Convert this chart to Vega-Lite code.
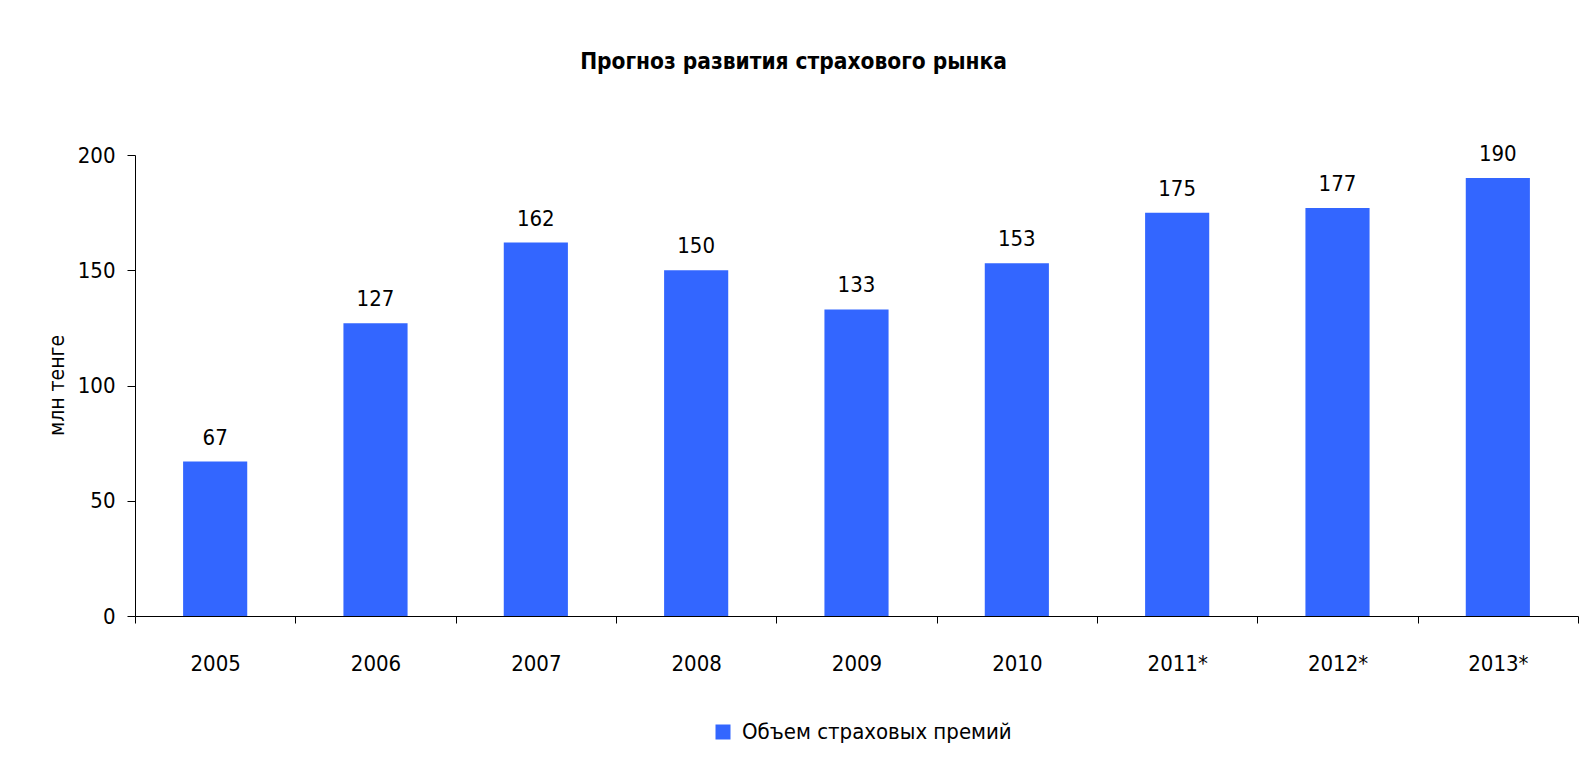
{
  "$schema": "https://vega.github.io/schema/vega-lite/v6.json",
  "autosize": {"type": "none"},
  "padding": {"left": 135, "top": 155, "right": 5, "bottom": 142},
  "width": 1443,
  "height": 461,
  "background": "white",
  "config": {
    "view": {"stroke": null},
    "font": "DejaVu Sans Condensed, Liberation Sans",
    "axis": {"grid": false, "domainColor": "black", "tickColor": "black", "labelColor": "black", "titleColor": "black", "labelFont": "DejaVu Sans Condensed, Liberation Sans", "titleFont": "DejaVu Sans Condensed, Liberation Sans"}
  },
  "title": {
    "text": "Прогноз развития страхового рынка",
    "font": "DejaVu Sans Condensed, Liberation Sans",
    "fontSize": 22.5,
    "fontWeight": "bold",
    "color": "black",
    "anchor": "middle",
    "dx": -63,
    "offset": 70
  },
  "data": {
    "values": [
      {"year": "2005", "value": 67, "series": "Объем страховых премий"},
      {"year": "2006", "value": 127, "series": "Объем страховых премий"},
      {"year": "2007", "value": 162, "series": "Объем страховых премий"},
      {"year": "2008", "value": 150, "series": "Объем страховых премий"},
      {"year": "2009", "value": 133, "series": "Объем страховых премий"},
      {"year": "2010", "value": 153, "series": "Объем страховых премий"},
      {"year": "2011*", "value": 175, "series": "Объем страховых премий"},
      {"year": "2012*", "value": 177, "series": "Объем страховых премий"},
      {"year": "2013*", "value": 190, "series": "Объем страховых премий"}
    ]
  },
  "encoding": {
    "x": {
      "field": "year", "type": "nominal", "sort": null,
      "scale": {"paddingInner": 0, "paddingOuter": 0},
      "axis": {"title": null, "labelAngle": 0, "tickBand": "extent", "tickSize": 7, "labelPadding": 30, "labelFontSize": 22, "domainWidth": 1, "tickWidth": 1}
    },
    "y": {
      "field": "value", "type": "quantitative",
      "scale": {"domain": [0, 200], "nice": false},
      "axis": {"title": "млн тенге", "values": [0, 50, 100, 150, 200], "tickSize": 8, "labelPadding": 12, "labelFontSize": 22, "titleFontSize": 21, "titleFontWeight": "normal", "titleAngle": -90, "titleX": -78, "titleY": 230, "titleAlign": "center", "titleBaseline": "middle"}
    }
  },
  "layer": [
    {
      "mark": {"type": "bar", "width": {"band": 0.4}},
      "encoding": {
        "color": {
          "field": "series", "type": "nominal",
          "scale": {"range": ["#3366FF"]},
          "legend": {"title": null, "orient": "none", "legendX": 577, "legendY": 566, "symbolType": "square", "symbolSize": 225, "symbolStrokeWidth": 0, "labelFontSize": 22, "labelLimit": 0, "labelColor": "black", "labelFont": "DejaVu Sans Condensed, Liberation Sans", "labelOffset": 8}
        }
      }
    },
    {
      "mark": {"type": "text", "baseline": "alphabetic", "dy": -17, "fontSize": 22, "color": "black", "font": "DejaVu Sans Condensed, Liberation Sans"},
      "encoding": {"text": {"field": "value", "type": "quantitative"}}
    }
  ]
}
